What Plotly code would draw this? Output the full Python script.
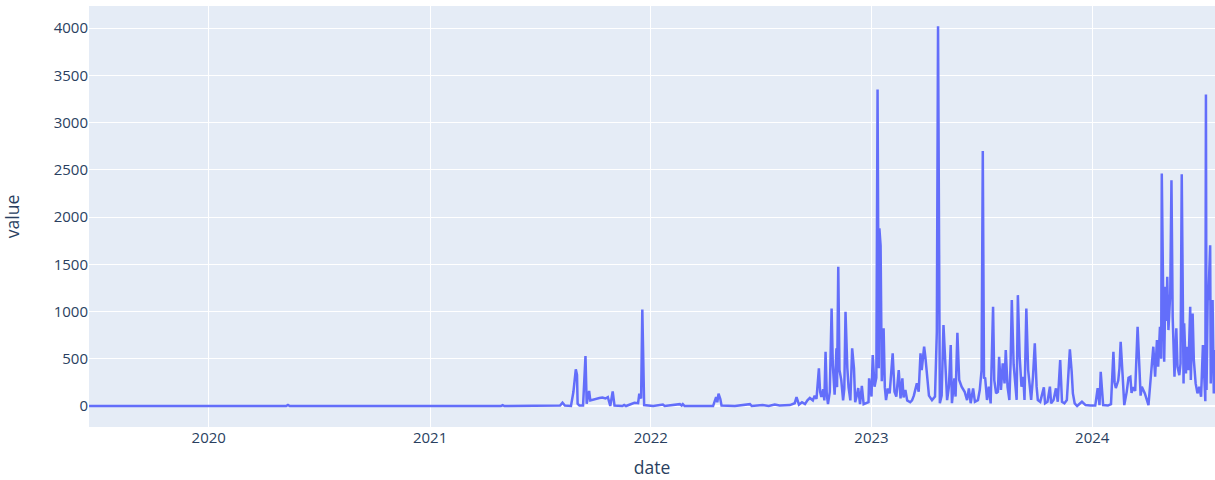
import plotly.graph_objects as go

dates = [
    "2019-06-17", "2020-05-08", "2020-05-11", "2020-05-14", "2021-04-28", "2021-05-01", "2021-05-04",
    "2021-07-25", "2021-08-04", "2021-08-08", "2021-08-12", "2021-08-22", "2021-08-26", "2021-08-30",
    "2021-09-01", "2021-09-02", "2021-09-05", "2021-09-11", "2021-09-15", "2021-09-17", "2021-09-21",
    "2021-09-23", "2021-09-28", "2021-10-03", "2021-10-08", "2021-10-13", "2021-10-18", "2021-10-22",
    "2021-10-26", "2021-10-30", "2021-11-02", "2021-11-15", "2021-11-18", "2021-11-21", "2021-11-30",
    "2021-12-05", "2021-12-11", "2021-12-13", "2021-12-16", "2021-12-18", "2021-12-21", "2022-01-05",
    "2022-01-21", "2022-01-24", "2022-02-18", "2022-02-21", "2022-02-23", "2022-02-26", "2022-04-14",
    "2022-04-17", "2022-04-19", "2022-04-21", "2022-04-23", "2022-04-26", "2022-04-28", "2022-05-20",
    "2022-06-14", "2022-06-17", "2022-07-05", "2022-07-15", "2022-07-25", "2022-08-02", "2022-08-19",
    "2022-08-27", "2022-08-30", "2022-09-03", "2022-09-08", "2022-09-13", "2022-09-17", "2022-09-21",
    "2022-09-26", "2022-09-29", "2022-10-02", "2022-10-06", "2022-10-08", "2022-10-10", "2022-10-13",
    "2022-10-15", "2022-10-17", "2022-10-19", "2022-10-21", "2022-10-24", "2022-10-27", "2022-10-29",
    "2022-11-01", "2022-11-04", "2022-11-05", "2022-11-07", "2022-11-09", "2022-11-12", "2022-11-15",
    "2022-11-17", "2022-11-19", "2022-11-22", "2022-11-24", "2022-11-27", "2022-11-30", "2022-12-03",
    "2022-12-05", "2022-12-08", "2022-12-10", "2022-12-13", "2022-12-16", "2022-12-19", "2022-12-22",
    "2022-12-27", "2022-12-28", "2023-01-01", "2023-01-03", "2023-01-06", "2023-01-09", "2023-01-11",
    "2023-01-13", "2023-01-14", "2023-01-16", "2023-01-18", "2023-01-21", "2023-01-23", "2023-01-25",
    "2023-01-28", "2023-01-31", "2023-02-05", "2023-02-08", "2023-02-11", "2023-02-15", "2023-02-18",
    "2023-02-21", "2023-02-23", "2023-02-26", "2023-03-01", "2023-03-06", "2023-03-09", "2023-03-12",
    "2023-03-17", "2023-03-20", "2023-03-23", "2023-03-25", "2023-03-29", "2023-03-31", "2023-04-04",
    "2023-04-06", "2023-04-11", "2023-04-16", "2023-04-19", "2023-04-21", "2023-04-24", "2023-04-27",
    "2023-04-30", "2023-05-03", "2023-05-06", "2023-05-09", "2023-05-12", "2023-05-14", "2023-05-18",
    "2023-05-20", "2023-05-23", "2023-05-26", "2023-05-30", "2023-06-04", "2023-06-08", "2023-06-11",
    "2023-06-14", "2023-06-18", "2023-06-21", "2023-06-26", "2023-06-29", "2023-07-02", "2023-07-04",
    "2023-07-06", "2023-07-08", "2023-07-11", "2023-07-14", "2023-07-17", "2023-07-18", "2023-07-21",
    "2023-07-23", "2023-07-26", "2023-07-29", "2023-07-31", "2023-08-03", "2023-08-06", "2023-08-09",
    "2023-08-11", "2023-08-14", "2023-08-17", "2023-08-19", "2023-08-21", "2023-08-24", "2023-08-26",
    "2023-08-29", "2023-08-31", "2023-09-03", "2023-09-06", "2023-09-09", "2023-09-11", "2023-09-14",
    "2023-09-17", "2023-09-20", "2023-09-22", "2023-09-25", "2023-09-28", "2023-10-01", "2023-10-03",
    "2023-10-07", "2023-10-10", "2023-10-13", "2023-10-15", "2023-10-19", "2023-10-23", "2023-10-25",
    "2023-10-29", "2023-11-02", "2023-11-05", "2023-11-09", "2023-11-12", "2023-11-16", "2023-11-20",
    "2023-11-25", "2023-11-28", "2023-11-30", "2023-12-03", "2023-12-07", "2023-12-15", "2023-12-21",
    "2023-12-29", "2024-01-06", "2024-01-10", "2024-01-13", "2024-01-15", "2024-01-19", "2024-01-27",
    "2024-02-01", "2024-02-05", "2024-02-07", "2024-02-09", "2024-02-13", "2024-02-15", "2024-02-17",
    "2024-02-20", "2024-02-23", "2024-02-27", "2024-03-01", "2024-03-04", "2024-03-06", "2024-03-09",
    "2024-03-12", "2024-03-16", "2024-03-19", "2024-03-21", "2024-03-23", "2024-03-28", "2024-04-03",
    "2024-04-11", "2024-04-14", "2024-04-17", "2024-04-19", "2024-04-22", "2024-04-24", "2024-04-25",
    "2024-04-28", "2024-04-29", "2024-05-01", "2024-05-03", "2024-05-04", "2024-05-06", "2024-05-09",
    "2024-05-11", "2024-05-13", "2024-05-16", "2024-05-19", "2024-05-21", "2024-05-24", "2024-05-26",
    "2024-05-28", "2024-05-31", "2024-06-01", "2024-06-04", "2024-06-05", "2024-06-08", "2024-06-11",
    "2024-06-12", "2024-06-15", "2024-06-17", "2024-06-20", "2024-06-23", "2024-06-26", "2024-06-29",
    "2024-07-02", "2024-07-04", "2024-07-06", "2024-07-07", "2024-07-08", "2024-07-10", "2024-07-11",
    "2024-07-14", "2024-07-15", "2024-07-18", "2024-07-20", "2024-07-22",
]

values = [
    0, 0, 12, 0, 0, 10, 0,
    0, 5, 35, 5, 0, 148, 388,
    330, 25, 5, 5, 529, 25, 159,
    60, 70, 80, 85, 90, 80, 95,
    0, 155, 5, 0, 12, 0, 25,
    35, 30, 130, 80, 1023, 10, 0,
    15, 0, 20, 5, 20, 0, 0,
    60, 95, 40, 130, 75, 5, 0,
    20, 0, 10, 0, 15, 5, 10,
    30, 95, 15, 40, 20, 60, 85,
    60, 110, 75, 399, 150, 95, 176,
    60, 575, 120, 20, 150, 1033, 434,
    120, 610, 200, 1474, 381, 275, 60,
    180, 998, 402, 200, 60, 610, 400,
    40, 120, 190, 20, 214, 20, 30,
    40, 293, 100, 540, 205, 300, 3350,
    400, 1880, 1700, 263, 822, 200, 63,
    187, 134, 557, 151, 100, 381, 80,
    293, 90, 169, 60, 40, 60, 110,
    240, 151, 557, 381, 628, 522, 263,
    110, 63, 100, 786, 4020, 30, 110,
    857, 416, 63, 205, 645, 30, 293,
    100, 776, 275, 205, 151, 63, 187,
    30, 187, 45, 63, 169, 381, 2700,
    300, 293, 64, 205, 28, 275, 1050,
    275, 134, 150, 522, 170, 451, 240,
    593, 200, 64, 460, 1121, 440, 310,
    64, 1174, 522, 205, 310, 64, 1033,
    381, 205, 64, 310, 663, 205, 64,
    45, 134, 198, 28, 45, 205, 28,
    64, 187, 45, 487, 45, 28, 64,
    600, 363, 134, 28, 0, 45, 10,
    5, 5, 190, 10, 363, 10, 5,
    20, 575, 250, 190, 270, 400, 680,
    350, 10, 150, 300, 310, 140, 200,
    160, 839, 480, 110, 204, 134, 10,
    628, 310, 698, 416, 839, 500, 2462,
    769, 469, 1262, 900, 1368, 804, 1192,
    2391, 945, 310, 822, 416, 327, 450,
    2455, 239, 875, 345, 628, 381, 1050,
    275, 980, 487, 239, 134, 204, 99,
    645, 239, 50, 3297, 169, 1195, 1121,
    1703, 239, 1121, 134, 592,
]

x_range = ["2019-06-17", "2024-07-22"]
y_range = [-222, 4235]

fig = go.Figure(
    go.Scatter(x=dates, y=values, mode="lines", line=dict(color="#636efa", width=2.5), name="value")
)
fig.update_layout(
    template="plotly",
    width=1215,
    height=480,
    margin=dict(l=89, r=0, t=6, b=53),
    showlegend=False,
    font=dict(size=15),
    xaxis=dict(title=dict(text="date", font=dict(size=17.5)), range=x_range, tickfont=dict(size=15)),
    yaxis=dict(title=dict(text="value", font=dict(size=17.5), standoff=30), range=y_range,
               tickfont=dict(size=15)),
)
fig.write_html("out.html", config={"displayModeBar": False},
               post_script="document.body.style.margin='0';")
